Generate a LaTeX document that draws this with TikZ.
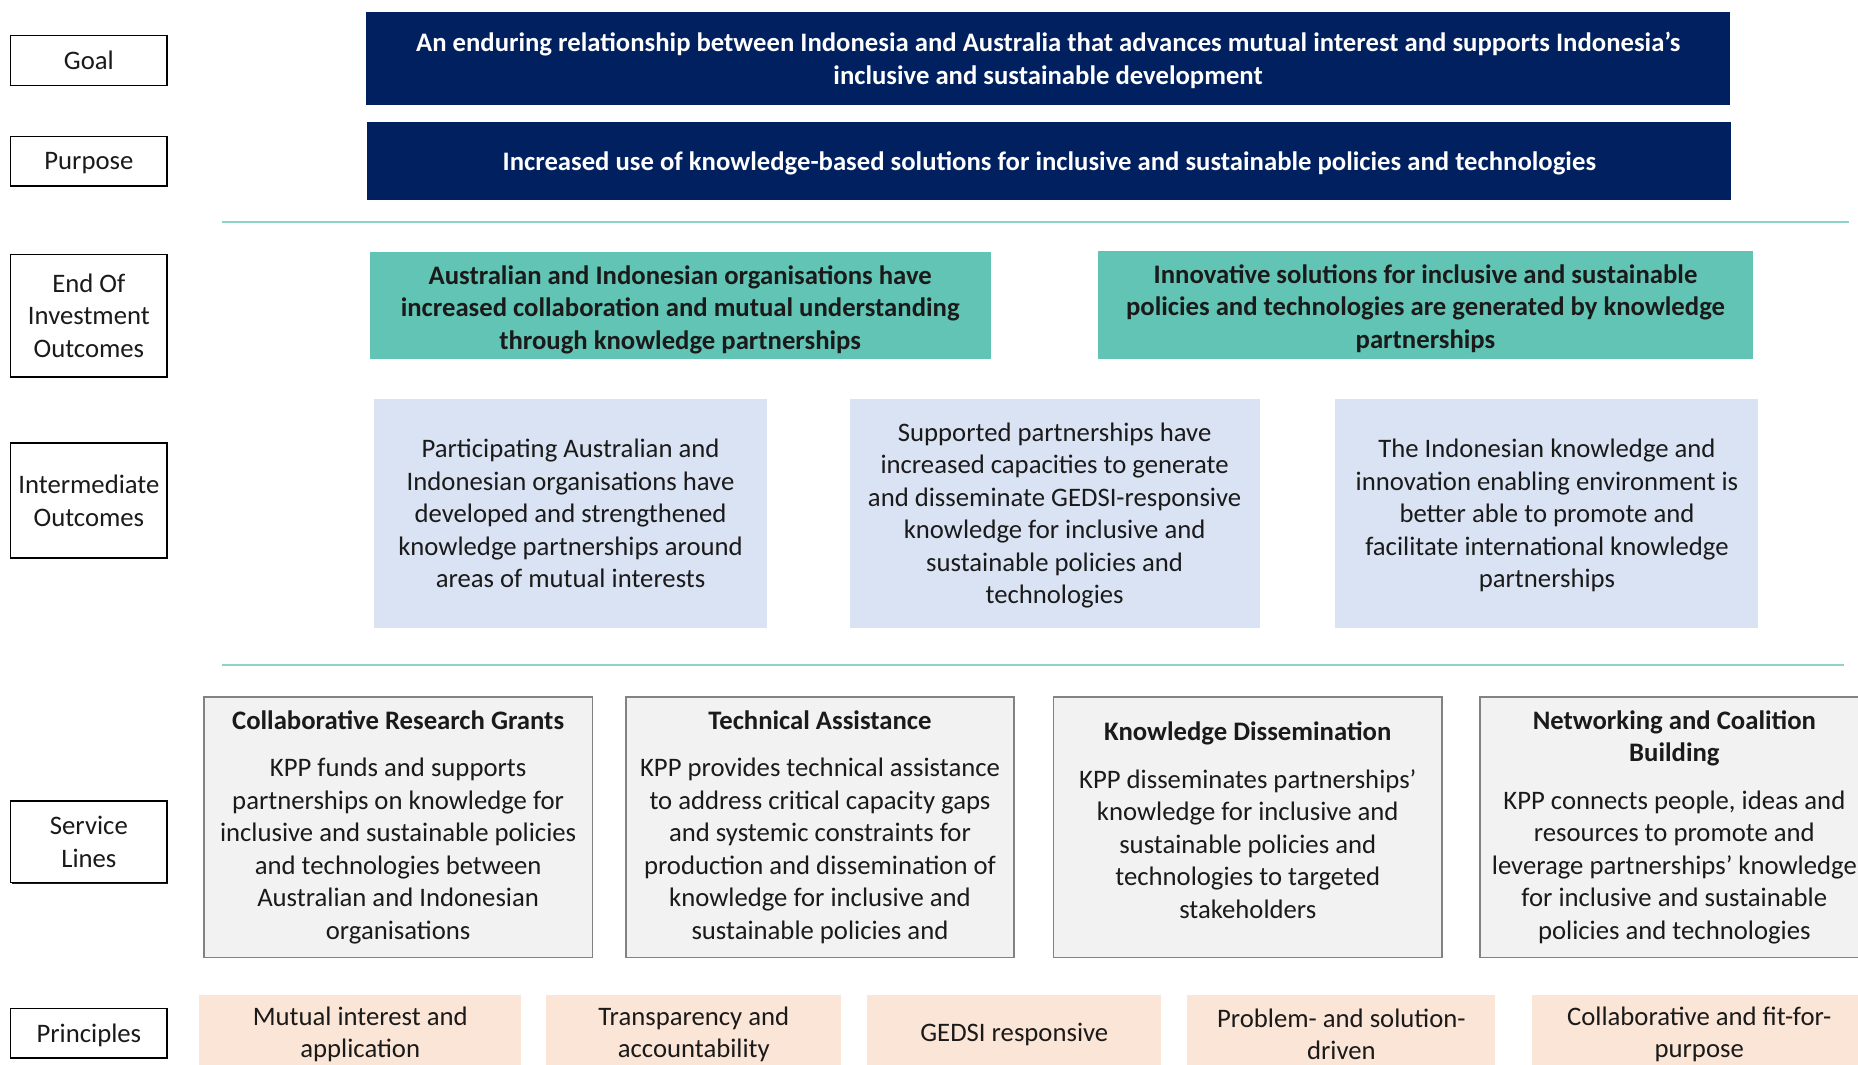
\documentclass[tikz,border=0pt]{standalone}
\usepackage{fontspec}
\setmainfont{Carlito}
\usepackage{tikz}
\usetikzlibrary{shadows}
\definecolor{KPPnavy}{RGB}{0,32,96}
\definecolor{KPPteal}{RGB}{98,196,180}
\definecolor{KPPline}{RGB}{140,212,202}
\definecolor{KPPblue}{RGB}{218,227,243}
\definecolor{KPPgrey}{RGB}{242,242,242}
\definecolor{KPPedge}{RGB}{130,130,130}
\definecolor{KPPpeach}{RGB}{251,229,214}
\definecolor{KPPtext}{RGB}{26,26,26}
\newlength{\pxu}
\setlength{\pxu}{0.237mm}
\newcommand{\kppfont}{\fontsize{15.2}{18.5}\selectfont}
% strut on a first line, to sit the text a little lower
\newcommand{\kppdown}[1]{\rule{0pt}{#1}}

\begin{document}
\begin{tikzpicture}[x=\pxu, y=-\pxu,
    font=\kppfont, text=KPPtext,
    lvl/.style={draw=black, fill=white, line width=0.8pt, align=center, minimum width=132\pxu,
      drop shadow={shadow xshift=0.6pt, shadow yshift=-0.6pt, fill=black, opacity=0.9}},
    topbox/.style={fill=KPPnavy, text=white, font=\kppfont\bfseries, align=center, inner sep=2pt},
    eoibox/.style={fill=KPPteal, font=\kppfont\bfseries, align=center, inner sep=2pt},
    iobox/.style={fill=KPPblue, align=center, inner sep=2pt, minimum height=193\pxu},
    slbox/.style={fill=KPPgrey, draw=KPPedge, line width=1pt, align=center, inner sep=2pt,
      minimum width=328\pxu, minimum height=220\pxu},
    prbox/.style={fill=KPPpeach, align=center, inner sep=2pt, minimum height=66\pxu},
    sep/.style={draw=KPPline, line width=1.1pt}]
  \useasboundingbox (0,0) rectangle (1568,898);
  \clip (0,0) rectangle (1568,898);

  % level labels
  \node[lvl, minimum height=42\pxu] (lgoal) at (75,51) {Goal};
  \node[lvl, minimum height=42\pxu, text depth=0pt] (lpurp) at (75,136) {Purpose};
  \node[lvl, minimum height=103\pxu] (leoi) at (75,266.5) {End Of\\Investment\\Outcomes};
  \node[lvl, minimum height=97\pxu] (lio) at (75,422.5) {Intermediate\\Outcomes};
  \node[lvl, minimum height=69\pxu] (lsl) at (75,710.5) {Service\\Lines};
  \node[lvl, minimum height=42\pxu, text depth=0pt] (lpr) at (75,872) {Principles};

  % goal and purpose
  \node[topbox, minimum width=1151\pxu, minimum height=79\pxu] (goal) at (884.5,49.5)
    {\kppdown{13pt}An enduring relationship between Indonesia and Australia that advances mutual interest and supports Indonesia’s\\inclusive and sustainable development};
  \node[topbox, minimum width=1151\pxu, minimum height=66\pxu, text depth=0pt] (purp) at (885.5,136)
    {Increased use of knowledge-based solutions for inclusive and sustainable policies and technologies};

  \draw[sep] (187,187) -- (1560,187);

  % end of investment outcomes
  \node[eoibox, minimum width=524\pxu, minimum height=90\pxu] (eoia) at (574,258)
    {\kppdown{15pt}Australian and Indonesian organisations have\\increased collaboration and mutual understanding\\through knowledge partnerships};
  \node[eoibox, minimum width=552\pxu, minimum height=91\pxu] (eoib) at (1203,257.5)
    {\kppdown{14.4pt}Innovative solutions for inclusive and sustainable\\policies and technologies are generated by knowledge\\partnerships};

  % intermediate outcomes
  \node[iobox, minimum width=331\pxu] (ioa) at (481.5,433.5)
    {Participating Australian and\\Indonesian organisations have\\developed and strengthened\\knowledge partnerships around\\areas of mutual interests};
  \node[iobox, minimum width=346\pxu] (iob) at (890,433.5)
    {\kppdown{12.4pt}Supported partnerships have\\increased capacities to generate\\and disseminate GEDSI-responsive\\knowledge for inclusive and\\sustainable policies and\\technologies};
  \node[iobox, minimum width=357\pxu] (ioc) at (1305.5,433.5)
    {\kppdown{13pt}The Indonesian knowledge and\\innovation enabling environment is\\better able to promote and\\facilitate international knowledge\\partnerships};

  \draw[sep] (187,561) -- (1556,561);

  % service lines
  \node[slbox] (sla) at (336,698)
    {\textbf{Collaborative Research Grants}\\[8.5pt]KPP funds and supports\\partnerships on knowledge for\\inclusive and sustainable policies\\and technologies between\\Australian and Indonesian\\organisations};
  \node[slbox] (slb) at (692,698)
    {\textbf{Technical Assistance}\\[8.5pt]KPP provides technical assistance\\to address critical capacity gaps\\and systemic constraints for\\production and dissemination of\\knowledge for inclusive and\\sustainable policies and};
  \node[slbox] (slc) at (1053,698)
    {\textbf{Knowledge Dissemination}\\[8.5pt]KPP disseminates partnerships’\\knowledge for inclusive and\\sustainable policies and\\technologies to targeted\\stakeholders\rule[-8pt]{0pt}{0pt}};
  \node[slbox] (sld) at (1413,698)
    {\textbf{Networking and Coalition}\\\textbf{Building}\\[8.5pt]KPP connects people, ideas and\\resources to promote and\\leverage partnerships’ knowledge\\for inclusive and sustainable\\policies and technologies};

  % principles
  \node[prbox, minimum width=272\pxu] (pra) at (304,873) {Mutual interest and\\application};
  \node[prbox, minimum width=249\pxu] (prb) at (585.5,873) {Transparency and\\accountability};
  \node[prbox, minimum width=248\pxu] (prc) at (856,873) {GEDSI responsive};
  \node[prbox, minimum width=260\pxu] (prd) at (1132,873) {Problem- and solution-\\driven};
  \node[prbox, minimum width=282\pxu] (pre) at (1434,873) {Collaborative and fit-for-\\purpose};
\end{tikzpicture}
\end{document}
